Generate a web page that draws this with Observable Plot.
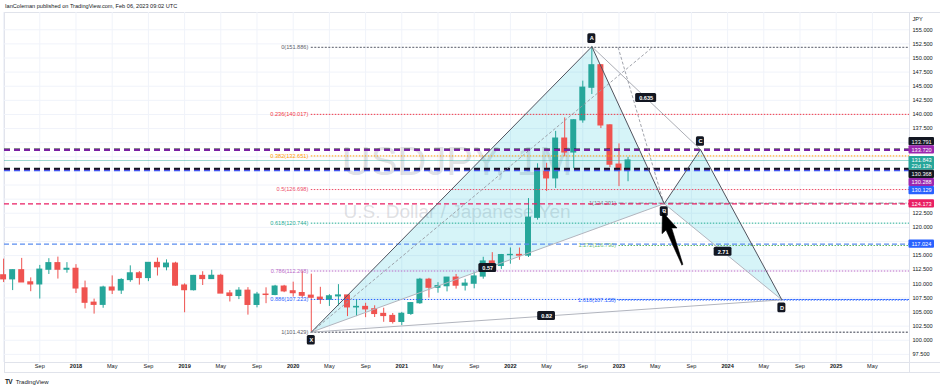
<!DOCTYPE html>
<html><head><meta charset="utf-8">
<script src="https://cdn.jsdelivr.net/npm/d3@7"></script>
<script src="https://cdn.jsdelivr.net/npm/@observablehq/plot@0.6"></script>
<style>
body{margin:0;background:#fff;font-family:"Liberation Sans",Arial,sans-serif;}
#wrap{position:relative;width:940px;height:390px;overflow:hidden;background:#fff}
#hdr{position:absolute;left:5px;top:3px;font-size:5.6px;line-height:6px;color:#131722;white-space:nowrap}
#ftr{position:absolute;left:5px;top:378px;font-size:6px;line-height:7px;color:#131722;white-space:nowrap}
#ftr b{font-size:6.5px;letter-spacing:-0.6px;margin-right:2px}
#chart{position:absolute;left:0;top:0}
.ln{position:absolute;background:#e0e3eb}
</style></head><body>
<div id="wrap">
<div class="ln" style="left:4px;top:12px;width:936px;height:1px"></div>
<div class="ln" style="left:4px;top:12px;width:1px;height:360px"></div>
<div class="ln" style="left:4px;top:362px;width:936px;height:1px"></div>
<div class="ln" style="left:4px;top:372px;width:936px;height:1px"></div>
<div class="ln" style="left:909px;top:12px;width:1px;height:360px"></div>
<div id="hdr">IanColeman published on TradingView.com, Feb 06, 2023 09:02 UTC</div>
<div id="chart"></div>
<div id="ftr"><b>TV</b> TradingView</div>
</div>
<script>
// ---------- data ----------
const dates = ["2017-05","2017-06","2017-07","2017-08","2017-09","2017-10","2017-11","2017-12",
"2018-01","2018-02","2018-03","2018-04","2018-05","2018-06","2018-07","2018-08","2018-09","2018-10","2018-11","2018-12",
"2019-01","2019-02","2019-03","2019-04","2019-05","2019-06","2019-07","2019-08","2019-09","2019-10","2019-11","2019-12",
"2020-01","2020-02","2020-03","2020-04","2020-05","2020-06","2020-07","2020-08","2020-09","2020-10","2020-11","2020-12",
"2021-01","2021-02","2021-03","2021-04","2021-05","2021-06","2021-07","2021-08","2021-09","2021-10","2021-11","2021-12",
"2022-01","2022-02","2022-03","2022-04","2022-05","2022-06","2022-07","2022-08","2022-09","2022-10","2022-11","2022-12",
"2023-01","2023-02"];
const open = [111.5,110.8,112.4,110.25,109.9,112.5,113.65,112.5,
112.65,109.18,106.65,106.28,109.33,108.82,110.67,111.85,111.03,113.7,112.94,113.57,
109.69,108.88,111.39,110.85,111.41,108.28,107.85,108.77,106.27,108.08,108.03,109.5,
108.67,108.35,107.89,107.54,107.18,107.78,107.93,105.83,105.9,105.48,104.66,104.3,
103.25,104.68,106.57,110.72,109.31,109.58,111.09,109.68,110.02,111.29,113.95,113.17,
115.08,115.11,115.0,121.7,129.84,128.68,135.72,133.27,138.96,144.74,148.71,138.06,
131.11,130.09];
const high = [114.37,112.47,114.5,111.05,113.26,114.45,114.73,113.75,
113.39,110.48,107.29,109.57,111.4,110.9,113.18,112.16,113.7,114.55,114.24,113.82,
110.0,111.49,112.14,112.4,111.69,108.8,109.32,109.32,108.48,109.29,109.73,109.73,
110.29,112.23,111.71,109.38,108.08,109.85,107.94,107.05,106.55,106.11,105.68,104.74,
104.94,106.69,110.97,110.97,110.2,111.11,111.66,110.8,112.08,114.7,115.52,115.2,
116.35,116.34,125.1,131.26,131.35,137.0,139.39,139.08,145.9,152.0,148.84,138.18,
134.78,132.4];
const low = [110.23,108.8,110.6,108.6,107.3,111.65,110.84,111.88,
108.28,105.55,104.63,105.67,108.1,108.12,110.27,109.77,110.38,111.38,112.3,109.56,
104.87,108.73,109.7,110.85,108.28,106.78,107.2,104.45,105.74,106.48,107.89,108.43,
107.65,107.5,101.43,106.36,105.99,106.07,104.19,104.19,104.0,104.03,103.18,102.88,
102.59,104.4,106.36,107.48,108.34,108.57,109.06,108.72,109.11,110.82,112.53,112.55,
113.47,114.16,114.66,121.28,126.36,126.89,132.5,130.4,138.45,143.53,137.5,130.57,
127.22,128.08];
const close = [110.8,112.4,110.25,109.9,112.5,113.65,112.5,112.65,
109.18,106.65,106.28,109.33,108.82,110.67,111.85,111.03,113.7,112.94,113.57,109.69,
108.88,111.39,110.85,111.41,108.28,107.85,108.77,106.27,108.08,108.03,109.5,108.67,
108.35,107.89,107.54,107.18,107.78,107.93,105.83,105.9,105.48,104.66,104.3,103.25,
104.68,106.57,110.72,109.31,109.58,111.09,109.68,110.02,111.29,113.95,113.17,115.08,
115.11,115.0,121.7,129.84,128.68,135.72,133.27,138.96,144.74,148.71,138.06,131.11,
130.09,131.84];

// XABCD pattern
const patternLabels = ["X","A","B","C","D"];
const patternDates  = ["2020-03","2022-10","2023-06","2023-10","2024-07"];
const patternPrices = [101.429,152.015,124.2,133.791,107.158];
const ratioSegments = [["X","B"],["A","C"],["B","D"],["X","D"]];
const ratioTexts    = ["0.57","0.635","2.71","0.82"];

// Fib retracement X->A
const fibLevels = ["0","0.236","0.382","0.5","0.618","0.786","0.886","1"];
const fibPrices = [151.886,140.017,132.651,126.698,120.744,112.268,107.223,101.429];
const fibColors = ["#787b86","#f23645","#ff9800","#ec4d6a","#22ab94","#ba68c8","#2962ff","#787b86"];
const fibStart = "2020-03";
// Fib extension
const fib2Levels = ["1","1.272","1.618"];
const fib2Prices = [124.291,116.790,107.158];
const fib2Colors = ["#787b86","#66bb6a","#2962ff"];
const fib2Start = "2023-01";

// horizontal full-width lines
const hPrices = [133.791,133.720,130.129,130.288,130.368,124.173,117.024];
const hColors = ["#131722","#7b1fa2","#2962ff","#9c27b0","#131722","#e91e63","#5b8def"];
const lastPrice = 131.843;
const countdown = "22d 13h";

// price labels on the axis
const tagPrices = [133.791,133.720,131.843,130.368,130.288,130.129,124.173,117.024];
const tagColors = ["#131722","#9c27b0","#26a69a","#131722","#9c27b0","#2962ff","#e91e63","#2962ff"];

// thin dashed helper lines (month index from Jan 2018, price)
const dashFromM = [26, 59.9], dashFromP = [101.429, 151.9];
const dashToM   = [63.7, 64.9], dashToP   = [151.9, 124.5];
// black arrow (month index, price)
const arrowFromM = 67.0, arrowFromP = 113.4, arrowToM = 64.8, arrowToP = 122.7;

// axis ticks
const xTicks = d3.range(-8, 89, 4);
const yTicks = d3.range(97.5, 155.01, 2.5);

// ---------- build ----------
const mIndex = s => { const [y, m] = s.split("-").map(Number); return (y - 2018) * 12 + (m - 1); };
const UP = "#26a69a", DOWN = "#ef5350";
const candles = dates.map((d, i) => ({m: mIndex(d), o: open[i], h: high[i], l: low[i], c: close[i], up: close[i] >= open[i]}));
const pts = patternLabels.map((k, i) => ({k, m: mIndex(patternDates[i]), p: patternPrices[i]}));
const P = Object.fromEntries(pts.map(d => [d.k, d]));
const fib1 = fibLevels.map((l, i) => ({l, p: fibPrices[i], color: fibColors[i]}));
const fib2 = fib2Levels.map((l, i) => ({l, p: fib2Prices[i], color: fib2Colors[i]}));

const W = 940, H = 390, mL = 4, mR = 31, mT = 12, mB = 28;
const xDomain = [-7.9, 92.1], yDomain = [96.06, 158.06];
const xs = Plot.scale({x: {domain: xDomain, range: [mL, W - mR]}});
const ys = Plot.scale({y: {domain: yDomain, range: [H - mB, mT]}});
const FONT = "5.6px";

// price tag layout: last-price tag stays anchored, others pushed away
const lineH = 5.6, single = 8.2;
let tags = tagPrices.map((p, i) => {
  const lines = p === lastPrice ? [p.toFixed(3), countdown] : [p.toFixed(3)];
  const h = lines.length === 1 ? single : single + lineH;
  return {p, color: tagColors[i], lines, h, c: ys.apply(p)};
}).sort((a, b) => a.c - b.c);
const k = tags.findIndex(t => t.p === lastPrice);
tags[k].top = tags[k].c - single / 2;
for (let i = k + 1; i < tags.length; i++) tags[i].top = Math.max(tags[i].c - single / 2, tags[i - 1].top + tags[i - 1].h);
for (let i = k - 1; i >= 0; i--) tags[i].top = Math.min(tags[i].c - single / 2, tags[i + 1].top - tags[i].h);
const tagX1 = xs.invert(908.5), tagX2 = xs.invert(934), tagTX = xs.invert(911);
const tagRects = tags.map(t => ({y1: ys.invert(t.top), y2: ys.invert(t.top + t.h), color: t.color}));
const tagTexts = tags.flatMap(t => t.lines.map((s, j) => ({s, y: ys.invert(t.top + single / 2 + j * lineH)})));
// axis tick labels hidden where a price tag sits (as TradingView does)
const yTickLabels = yTicks.filter(v => {
  const c = ys.apply(v);
  return !tags.some(t => c > t.top - 3 && c < t.top + t.h + 3);
});

const ratioMarks = ratioSegments.flatMap(([a, b], i) => {
  const d = {m: (P[a].m + P[b].m) / 2, p: (P[a].p + P[b].p) / 2, t: ratioTexts[i]};
  const hw = d.t.length * 1.6 + 2.5;
  return [
    Plot.rect([d], {x1: "m", x2: "m", y1: "p", y2: "p", insetLeft: -hw, insetRight: -hw, insetTop: -4.5, insetBottom: -4.5, fill: "#131722", rx: 1.5}),
    Plot.text([d], {x: "m", y: "p", text: "t", fill: "#fff", fontSize: FONT, fontWeight: 700})
  ];
});

const ptMarks = pts.flatMap(d => {
  const dy = (d.k === "A" || d.k === "C") ? -8 : 8;
  return [
    Plot.rect([d], {x1: "m", x2: "m", y1: "p", y2: "p", insetLeft: -4, insetRight: -4, insetTop: -4.8, insetBottom: -4.8, fill: "#131722", rx: 1.5, dy}),
    Plot.text([d], {x: "m", y: "p", text: "k", fill: "#fff", fontSize: FONT, fontWeight: 700, dy})
  ];
});

// filled wedge arrow built in screen space from its two data end points
function arrowPolygon() {
  const tx = xs.apply(arrowFromM), ty = ys.apply(arrowFromP);
  const hx = xs.apply(arrowToM), hy = ys.apply(arrowToP);
  const L = Math.hypot(hx - tx, hy - ty), ux = (hx - tx) / L, uy = (hy - ty) / L, nx = -uy, ny = ux;
  const at = (d, w) => [tx + ux * d + nx * w, ty + uy * d + ny * w];
  const head = L - 18;
  const poly = [at(0, -0.6), at(head, -3), at(head - 2, -8), at(L, 0), at(head - 2, 8), at(head, 3), at(0, 0.6), at(0, -0.6)];
  return poly.map(([x, y]) => ({m: xs.invert(x), p: ys.invert(y)}));
}

const hLineMarks = hPrices.map((p, i) => Plot.ruleY([p], {
  stroke: hColors[i],
  strokeWidth: (i === 5 || i === 6) ? 1.2 : 2,
  strokeDasharray: (i === 5 || i === 6) ? "5,3" : "6,4"
}));

const chart = Plot.plot({
  width: W, height: H, marginLeft: mL, marginRight: mR, marginTop: mT, marginBottom: mB,
  x: {domain: xDomain, axis: null},
  y: {domain: yDomain, axis: null},
  style: {fontFamily: "'Liberation Sans', Arial, sans-serif", background: "transparent", overflow: "visible"},
  marks: [
    Plot.ruleX(xTicks, {stroke: "#f0f3fa"}),
    Plot.ruleY(yTicks, {stroke: "#f0f3fa"}),
    Plot.text(["USDJPY, 1M"], {text: d => d, frameAnchor: "middle", dy: -25, fontSize: 40, fill: "#9598a1", fillOpacity: 0.3}),
    Plot.text(["U.S. Dollar / Japanese Yen"], {text: d => d, frameAnchor: "middle", dy: 24, fontSize: 19, fill: "#9598a1", fillOpacity: 0.3}),
    // pattern fills
    Plot.line([P.X, P.A, P.B, P.X], {x: "m", y: "p", fill: "#00bcd4", fillOpacity: 0.16, stroke: "none"}),
    Plot.line([P.B, P.C, P.D, P.B], {x: "m", y: "p", fill: "#00bcd4", fillOpacity: 0.16, stroke: "none"}),
    // candles
    Plot.ruleX(candles, {x: "m", y1: "l", y2: "h", stroke: d => d.up ? UP : DOWN, strokeWidth: 1}),
    Plot.rect(candles, {x1: d => d.m - 0.33, x2: d => d.m + 0.33, y1: d => Math.min(d.o, d.c), y2: d => Math.max(d.o, d.c),
      fill: d => d.up ? UP : DOWN, insetTop: -0.6, insetBottom: -0.6}),
    // fib retracement
    Plot.ruleY(fib1.filter(d => d.l === "0" || d.l === "1"), {y: "p", x1: mIndex(fibStart), x2: xDomain[1], stroke: "color", strokeWidth: 1.4, strokeDasharray: "2,1.5"}),
    Plot.ruleY(fib1.filter(d => d.l !== "0" && d.l !== "1"), {y: "p", x1: mIndex(fibStart), x2: xDomain[1], stroke: "color", strokeWidth: 1, strokeDasharray: "1.5,1.5"}),
    Plot.text(fib1, {x: mIndex(fibStart), y: "p", text: d => `${d.l}(${d.p.toFixed(3)})`, fill: d => d.l === "0" || d.l === "1" ? "#5d606b" : d.color, textAnchor: "end", dx: -3, fontSize: FONT}),
    // fib extension
    Plot.ruleY(fib2.slice(0, 1), {y: "p", x1: mIndex(fib2Start), x2: xDomain[1], stroke: "color", strokeDasharray: "5,2,1,2"}),
    Plot.ruleY(fib2.slice(1), {y: "p", x1: mIndex(fib2Start), x2: xDomain[1], stroke: "color", strokeWidth: 1.2, strokeDasharray: "1.5,1.5"}),
    Plot.text(fib2, {x: mIndex(fib2Start), y: "p", text: d => `${d.l}(${d.p.toFixed(3)})`, fill: "color", textAnchor: "end", dx: -3, fontSize: FONT}),
    // horizontal lines
    Plot.ruleY([lastPrice], {stroke: UP, strokeOpacity: 0.45, strokeWidth: 1}),
    ...hLineMarks,
    // helper dashed lines
    Plot.link(dashFromM.map((m, i) => ({m1: m, p1: dashFromP[i], m2: dashToM[i], p2: dashToP[i]})),
      {x1: "m1", y1: "p1", x2: "m2", y2: "p2", stroke: "#9598a1", strokeWidth: 0.9, strokeDasharray: "3,2"}),
    // pattern lines
    Plot.line([P.X, P.B, P.D], {x: "m", y: "p", stroke: "#b2b5be", strokeWidth: 1}),
    Plot.line([P.X, P.D], {x: "m", y: "p", stroke: "#b2b5be", strokeWidth: 1}),
    Plot.line([P.A, P.C], {x: "m", y: "p", stroke: "#9598a1", strokeWidth: 0.8}),
    Plot.line([P.X, P.A, P.B, P.C, P.D], {x: "m", y: "p", stroke: "#50535e", strokeWidth: 1}),
    ...ratioMarks,
    ...ptMarks,
    Plot.line(arrowPolygon(), {x: "m", y: "p", fill: "#000", stroke: "#000", strokeWidth: 0.6}),
    // x axis labels
    Plot.text(xTicks.filter(m => m % 12 === 0), {x: d => d, frameAnchor: "bottom", dy: 5, text: d => String(2018 + d / 12), fontSize: FONT, fill: "#131722", fontWeight: 700}),
    Plot.text(xTicks.filter(m => m > -8 && ((m % 12) + 12) % 12 !== 0), {x: d => d, frameAnchor: "bottom", dy: 5, text: d => (((d % 12) + 12) % 12 === 4 ? "May" : "Sep"), fontSize: FONT, fill: "#131722"}),
    // y axis labels
    Plot.text(yTickLabels, {y: d => d, frameAnchor: "right", dx: 3, textAnchor: "start", text: d => d.toFixed(3), fontSize: FONT, fill: "#131722"}),
    Plot.text(["JPY"], {text: d => d, frameAnchor: "top-right", dx: 3, dy: 5, textAnchor: "start", fontSize: FONT, fill: "#131722"}),
    // price tags
    Plot.rect(tagRects, {x1: tagX1, x2: tagX2, y1: "y1", y2: "y2", fill: "color", rx: 1}),
    Plot.text(tagTexts, {x: tagTX, y: "y", text: "s", textAnchor: "start", fill: "#fff", fontSize: FONT})
  ]
});
document.getElementById("chart").appendChild(chart);
</script>
</body></html>
